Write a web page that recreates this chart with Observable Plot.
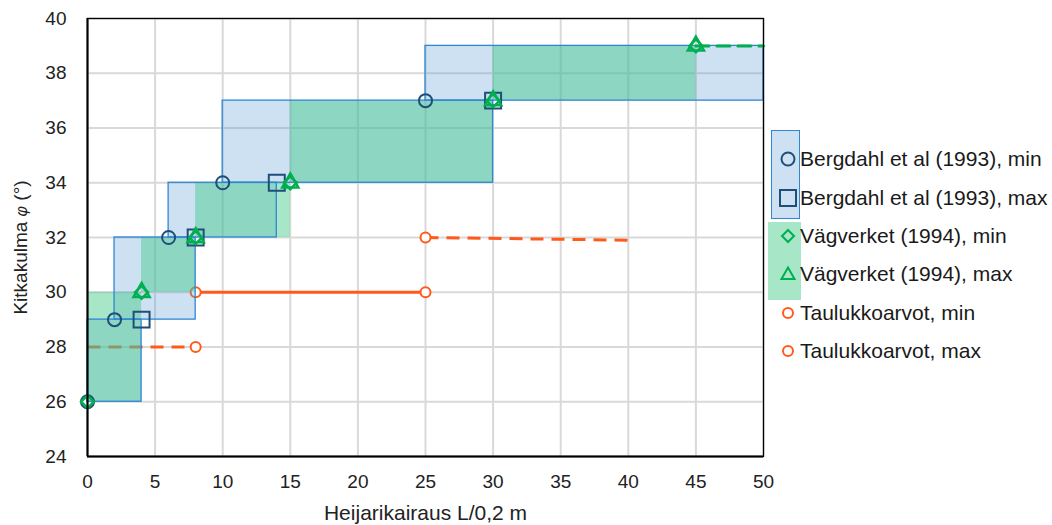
<!DOCTYPE html>
<html><head><meta charset="utf-8">
<script src="https://cdn.jsdelivr.net/npm/d3@7"></script>
<script src="https://cdn.jsdelivr.net/npm/@observablehq/plot@0.6"></script>
<style>
body{margin:0;background:#fff;}
#wrap{position:relative;width:1052px;height:525px;overflow:hidden;}
.patch{position:absolute;}
#legend{position:absolute;left:776px;top:140px;font-family:"Liberation Sans",Arial,sans-serif;font-size:21px;color:#1a1a1a;}
.row{display:flex;align-items:center;height:38.4px;white-space:nowrap;}
.row svg{width:24px;height:24px;flex:none;}
</style></head><body><div id="wrap"></div>
<script>
// ---- data ----
const xTicks = [0, 5, 10, 15, 20, 25, 30, 35, 40, 45, 50];
const yTicks = [24, 26, 28, 30, 32, 34, 36, 38, 40];

// Bergdahl et al (1993): class ranges
const bergLlo = [0, 2, 6, 10, 25];
const bergLhi = [4, 8, 14, 30, 50];
const bergPhiLo = [26, 29, 32, 34, 37];
const bergPhiHi = [29, 32, 34, 37, 39];
// Bergdahl markers
const bergMinL = [0, 2, 6, 10, 25];
const bergMinPhi = [26, 29, 32, 34, 37];
const bergMaxL = [4, 8, 14, 30];
const bergMaxPhi = [29, 32, 34, 37];

// Vägverket (1994): class ranges
const vagLlo = [0, 4, 8, 15, 30];
const vagLhi = [4, 8, 15, 30, 45];
const vagPhiLo = [26, 30, 32, 34, 37];
const vagPhiHi = [30, 32, 34, 37, 39];
// Vägverket markers
const vagMinL = [0, 4, 8, 15, 30, 45];
const vagMinPhi = [26, 30, 32, 34, 37, 39];
const vagMaxL = [4, 8, 15, 30, 45];
const vagMaxPhi = [30, 32, 34, 37, 39];
const vagTailL = [45, 50];
const vagTailPhi = [39, 39];

// Taulukkoarvot
const taulMinL = [8, 25];
const taulMinPhi = [28, 30];
const taulMaxL = [8, 25];
const taulMaxPhi = [30, 32];
const taulDashL1 = [0, 25], taulDashL2 = [8, 40.3];
const taulDashPhi1 = [28, 32], taulDashPhi2 = [28, 31.9];
const taulSolidL1 = [8], taulSolidL2 = [25];
const taulSolidPhi1 = [30], taulSolidPhi2 = [30];

const legendLabels = [
  "Bergdahl et al (1993), min",
  "Bergdahl et al (1993), max",
  "Vägverket (1994), min",
  "Vägverket (1994), max",
  "Taulukkoarvot, min",
  "Taulukkoarvot, max"
];

// ---- build tables ----
const zipPts = (xs, ys) => xs.map((x, i) => ({x, y: ys[i]}));
const zipRects = (a, b, c, d) => a.map((x1, i) => ({x1, x2: b[i], y1: c[i], y2: d[i]}));

const bergRects = zipRects(bergLlo, bergLhi, bergPhiLo, bergPhiHi);
const vagRects = zipRects(vagLlo, vagLhi, vagPhiLo, vagPhiHi);
const taulDash = zipRects(taulDashL1, taulDashL2, taulDashPhi1, taulDashPhi2);
const taulSolid = zipRects(taulSolidL1, taulSolidL2, taulSolidPhi1, taulSolidPhi2);

const BLUE_FILL = "#5b9bd5", BLUE_OP = 0.3;
const BLUE_LINE = "#2f86d4";
const GREEN_FILL = "rgb(66,200,135)", GREEN_OP = 0.46;
const DARKBLUE = "#1f4e79";
const GREEN = "#00b050";
const ORANGE = "#ff5a1a";
const AXFONT = '"Liberation Sans",Arial,sans-serif';

const chart = Plot.plot({
  width: 1052, height: 525,
  marginLeft: 87, marginRight: 289, marginTop: 18, marginBottom: 69,
  x: {domain: [0, 50]},
  y: {domain: [24, 40]},
  style: {fontFamily: AXFONT, fontSize: "19px", background: "white", color: "#222"},
  marks: [
    Plot.gridX(xTicks, {stroke: "#d9d9d9", strokeOpacity: 1, strokeWidth: 2}),
    Plot.gridY(yTicks, {stroke: "#d9d9d9", strokeOpacity: 1, strokeWidth: 2}),
    Plot.link(taulDash, {x1: "x1", x2: "x2", y1: "y1", y2: "y2", stroke: ORANGE, strokeWidth: 3, strokeDasharray: "13,8"}),
    Plot.link(taulSolid, {x1: "x1", x2: "x2", y1: "y1", y2: "y2", stroke: ORANGE, strokeWidth: 3}),
    Plot.dot(zipPts(taulMinL, taulMinPhi), {x: "x", y: "y", r: 5, stroke: ORANGE, strokeWidth: 2, fill: "white"}),
    Plot.dot(zipPts(taulMaxL, taulMaxPhi), {x: "x", y: "y", r: 5, stroke: ORANGE, strokeWidth: 2, fill: "white"}),
    Plot.rect(bergRects, {x1: "x1", x2: "x2", y1: "y1", y2: "y2", fill: BLUE_FILL, fillOpacity: BLUE_OP}),
    Plot.rect(vagRects, {x1: "x1", x2: "x2", y1: "y1", y2: "y2", fill: GREEN_FILL, fillOpacity: GREEN_OP}),
    Plot.rect(bergRects, {x1: "x1", x2: "x2", y1: "y1", y2: "y2", fill: "none", stroke: BLUE_LINE, strokeWidth: 1.3}),
    Plot.line(zipPts(vagTailL, vagTailPhi), {x: "x", y: "y", stroke: GREEN, strokeWidth: 3, strokeDasharray: "13,8"}),
    Plot.dot(zipPts(bergMinL, bergMinPhi), {x: "x", y: "y", symbol: "circle", r: 6.5, stroke: DARKBLUE, strokeWidth: 2, fill: "none"}),
    Plot.dot(zipPts(bergMaxL, bergMaxPhi), {x: "x", y: "y", symbol: "square", r: 9, stroke: DARKBLUE, strokeWidth: 2, fill: "none"}),
    Plot.dot(zipPts(vagMinL, vagMinPhi), {x: "x", y: "y", symbol: "diamond2", r: 5.8, stroke: GREEN, strokeWidth: 2.5, fill: "none"}),
    Plot.dot(zipPts(vagMaxL, vagMaxPhi), {x: "x", y: "y", symbol: "triangle", r: 6, stroke: GREEN, strokeWidth: 2.5, fill: "none"}),
    Plot.frame({stroke: "#000", strokeWidth: 1.3}),
    Plot.ruleX([0], {stroke: "#000", strokeWidth: 2}),
    Plot.ruleY([24], {stroke: "#000", strokeWidth: 2}),
    Plot.axisX(xTicks, {tickSize: 0, tickPadding: 18, label: null, fill: "#222"}),
    Plot.axisY(yTicks, {tickSize: 0, tickPadding: 21, label: null, fill: "#222"}),
    Plot.text(["Heijarikairaus L/0,2 m"], {frameAnchor: "bottom", lineAnchor: "middle", dy: 57, fontSize: 21, fill: "#222"}),
    Plot.text(["Kitkakulma φ (°)"], {frameAnchor: "left", textAnchor: "middle", lineAnchor: "middle", dx: -67, dy: 10, rotate: -90, fontSize: 19, fill: "#222"})
  ]
});

// italic φ
chart.querySelectorAll("text").forEach(t => {
  if (t.textContent.includes("φ") && t.childElementCount === 0) {
    const parts = t.textContent.split("φ");
    t.textContent = parts[0];
    const ts = document.createElementNS("http://www.w3.org/2000/svg", "tspan");
    ts.setAttribute("font-style", "italic");
    ts.setAttribute("font-size", "16");
    ts.textContent = "φ";
    t.appendChild(ts);
    t.appendChild(document.createTextNode(parts[1]));
  }
});

const wrap = document.getElementById("wrap");
wrap.appendChild(chart);

// legend patches
const bp = document.createElement("div");
bp.className = "patch";
Object.assign(bp.style, {left: "771px", top: "130px", width: "29px", height: "89px",
  background: "rgba(91,155,213,0.3)", border: "1.3px solid " + BLUE_LINE, boxSizing: "border-box"});
wrap.appendChild(bp);
const gp = document.createElement("div");
gp.className = "patch";
Object.assign(gp.style, {left: "768px", top: "222px", width: "33px", height: "78px",
  background: "rgba(66,200,135,0.46)"});
wrap.appendChild(gp);

// legend rows
const icons = [
  `<circle cx="12" cy="12" r="6.5" fill="none" stroke="${DARKBLUE}" stroke-width="2"/>`,
  `<rect x="4" y="4" width="16" height="16" fill="none" stroke="${DARKBLUE}" stroke-width="2"/>`,
  `<path d="M12,6L18,12L12,18L6,12Z" fill="none" stroke="${GREEN}" stroke-width="2"/>`,
  `<path d="M12,5.5L18.5,17L5.5,17Z" fill="none" stroke="${GREEN}" stroke-width="2"/>`,
  `<circle cx="12" cy="12" r="5" fill="white" stroke="${ORANGE}" stroke-width="2"/>`,
  `<circle cx="12" cy="12" r="5" fill="white" stroke="${ORANGE}" stroke-width="2"/>`
];
const leg = document.createElement("div");
leg.id = "legend";
leg.innerHTML = legendLabels.map((l, i) =>
  `<div class="row"><svg viewBox="0 0 24 24">${icons[i]}</svg><span>${l}</span></div>`).join("");
wrap.appendChild(leg);
</script></body></html>
